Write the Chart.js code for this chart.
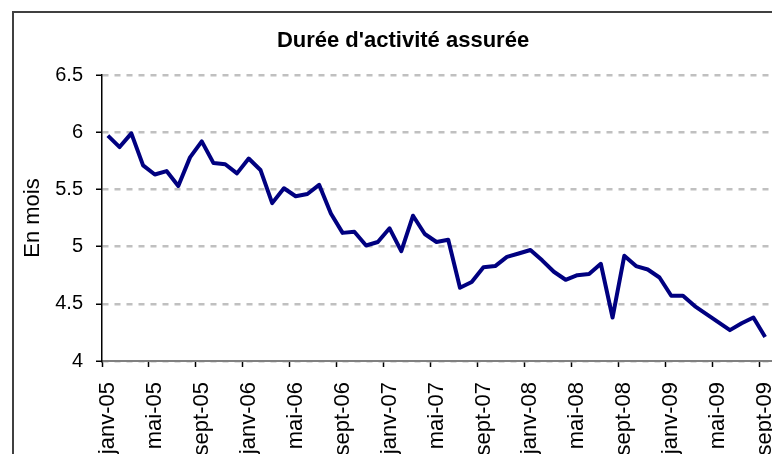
<!DOCTYPE html>
<html lang="fr">
<head>
  <meta charset="UTF-8"/>
  <title>Durée d'activité assurée</title>
  <script src="https://cdn.jsdelivr.net/npm/chart.js"></script>
  <style>
    body {
      margin: 0;
      padding: 0;
      background: #fff;
      overflow: hidden;
    }
    .frame {
      position: absolute;
      left: 12px;
      top: 11px;
      width: 2000px;
      height: 2000px;
      border-left: 2px solid #404040;
      border-top: 2px solid #404040;
    }
    canvas {
      position: absolute;
      left: 0;
      top: 0;
    }
  </style>
</head>
<body>

<div class="frame"></div>
<canvas id="dureeChart" width="772" height="454"></canvas>

<script>
  const TITLE = "Durée d'activité assurée";
  const Y_TITLE = "En mois";

  const months = [
    "janv-05", "févr-05", "mars-05", "avr-05", "mai-05", "juin-05", "juil-05", "août-05", "sept-05", "oct-05", "nov-05", "déc-05",
    "janv-06", "févr-06", "mars-06", "avr-06", "mai-06", "juin-06", "juil-06", "août-06", "sept-06", "oct-06", "nov-06", "déc-06",
    "janv-07", "févr-07", "mars-07", "avr-07", "mai-07", "juin-07", "juil-07", "août-07", "sept-07", "oct-07", "nov-07", "déc-07",
    "janv-08", "févr-08", "mars-08", "avr-08", "mai-08", "juin-08", "juil-08", "août-08", "sept-08", "oct-08", "nov-08", "déc-08",
    "janv-09", "févr-09", "mars-09", "avr-09", "mai-09", "juin-09", "juil-09", "août-09", "sept-09"
  ];

  const duree = [
    5.97, 5.87, 5.99, 5.71, 5.63, 5.66, 5.53, 5.78, 5.92, 5.73, 5.72, 5.64,
    5.77, 5.67, 5.38, 5.51, 5.44, 5.46, 5.54, 5.29, 5.12, 5.13, 5.01, 5.04,
    5.16, 4.96, 5.27, 5.11, 5.04, 5.06, 4.64, 4.69, 4.82, 4.83, 4.91, 4.94,
    4.97, 4.88, 4.78, 4.71, 4.75, 4.76, 4.85, 4.38, 4.92, 4.83, 4.80, 4.73,
    4.57, 4.57, 4.48, 4.41, 4.34, 4.27, 4.33, 4.38, 4.21
  ];

  const yMin = 4;
  const yMax = 6.5;
  const yStep = 0.5;
  const labelEvery = 4;

  const FONT = "'Liberation Sans', Arial, sans-serif";
  Chart.defaults.font.family = FONT;
  Chart.defaults.color = "#000";

  // title drawn by hand so it can sit where the original (wider) chart centred it
  const titlePlugin = {
    id: "titleText",
    afterDraw(chart) {
      const ctx = chart.ctx;
      ctx.save();
      ctx.font = "bold 22px " + FONT;
      ctx.fillStyle = "#000";
      ctx.textAlign = "center";
      ctx.textBaseline = "middle";
      ctx.fillText(TITLE, 403, 41);
      ctx.restore();
    }
  };

  const ctx = document.getElementById("dureeChart").getContext("2d");
  new Chart(ctx, {
    type: "line",
    data: {
      labels: months,
      datasets: [{
        data: duree,
        borderColor: "#000080",
        borderWidth: 4,
        borderJoinStyle: "round",
        pointRadius: 0,
        tension: 0,
        fill: false
      }]
    },
    options: {
      responsive: false,
      animation: false,
      layout: { padding: { top: 75, right: 1, left: 0, bottom: 0 } },
      plugins: {
        legend: { display: false },
        title: { display: false },
        tooltip: { enabled: false }
      },
      scales: {
        x: {
          type: "category",
          offset: true,
          afterFit: s => {
            s.height = 93;
            s.paddingLeft = 0;
            s.paddingRight = 0;
          },
          grid: {
            offset: true,
            drawOnChartArea: false,
            tickLength: 6,
            tickWidth: 1.5,
            color: c => (c.index % labelEvery === 0 ? "#000" : "rgba(0,0,0,0)")
          },
          border: { color: "#808080", width: 2 },
          ticks: {
            autoSkip: false,
            minRotation: 90,
            maxRotation: 90,
            padding: 15,
            font: { size: 22 },
            callback: (v, i) => (i % labelEvery === 0 ? months[i] : "")
          }
        },
        y: {
          min: yMin,
          max: yMax,
          afterFit: s => {
            s.width = 102;
            s.paddingTop = 0;
            s.paddingBottom = 0;
          },
          title: {
            display: true,
            text: Y_TITLE,
            font: { size: 22 },
            padding: { top: 20, bottom: 0 }
          },
          grid: {
            color: "#c0c0c0",
            lineWidth: 2.5,
            tickColor: "#000",
            tickLength: 6,
            tickWidth: 1.5
          },
          border: { color: "#000", width: 1.5, dash: [6, 6] },
          ticks: {
            stepSize: yStep,
            padding: 13,
            font: { size: 20 },
            callback: v => v.toString()
          }
        }
      }
    },
    plugins: [titlePlugin]
  });
</script>

</body>
</html>
